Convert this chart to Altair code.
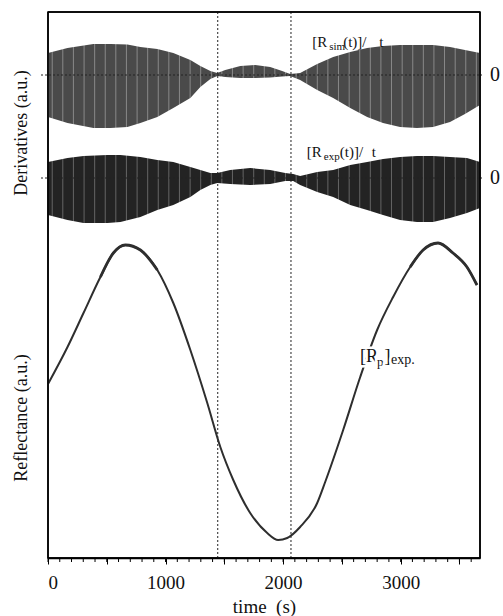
import altair as alt
import pandas as pd

FONT = "Liberation Serif"

# ---- data (time in s, values in a.u.) ----
# envelope of simulated derivative (relative to its zero line)
sim_t = [0, 166, 387, 531, 675, 786, 930, 1066, 1211, 1296, 1381, 1440, 1508, 1636, 1763,
         1890, 1992, 2060, 2145, 2290, 2426, 2571, 2715, 2850, 2995, 3139, 3275, 3420, 3547, 3675]
sim_hi = [22, 27, 31, 31, 30.5, 28, 26, 22, 15, 9, 4, 2, 5, 9, 10,
          8, 4, 1, 2, 11, 18, 23, 27, 29, 30, 30, 30, 28, 25, 22]
sim_lo = [-42, -48, -53, -53, -52, -48, -42, -33, -23, -12, -4, -1, -2, -3, -3,
          -2.5, -1.5, -1, -5, -15, -23, -33, -42, -48, -52, -53, -52, -47, -39, -30]

# envelope of experimental derivative (relative to its zero line)
exp_t = [0, 166, 302, 506, 616, 786, 930, 1066, 1211, 1296, 1381, 1440, 1550, 1720, 1890,
         2018, 2086, 2145, 2290, 2426, 2571, 2715, 2850, 2995, 3139, 3275, 3420, 3564, 3675]
exp_hi = [16, 20, 22, 23, 23, 21, 18, 16, 11, 8, 5, 5, 8, 10, 8,
          5, 4, 2, 6, 8, 13, 16, 19, 21, 22, 22, 21, 20, 16]
exp_lo = [-37, -42, -45, -45, -44, -39, -32, -27, -19, -12, -7, -5, -6, -7, -6,
          -3, -3, -7, -14, -19, -27, -32, -37, -42, -44, -44, -40, -35, -30]

# experimental reflectance
refl_t = [0, 166, 302, 446, 556, 658, 786, 930, 1066, 1211, 1355, 1466, 1576, 1720, 1865,
          1958, 2035, 2145, 2290, 2358, 2511, 2656, 2800, 2936, 3081, 3191, 3318, 3445, 3564, 3649]
refl_v = [174, 211, 245, 281, 305, 313, 308, 288, 255, 208, 155, 111, 78, 45, 25,
          18, 20, 31, 55, 76, 128, 181, 228, 261, 291, 308, 315, 305, 291, 273]

# light vertical stripes seen inside the derivative bands
stripe_t = [36, 126, 216, 307, 397, 487, 577, 667, 758, 848, 938, 1028, 1118, 1209, 1299,
            1389, 1479, 1569, 1660, 1750, 1840, 1930, 2020, 2111, 2201, 2291, 2381, 2471,
            2562, 2652, 2742, 2832, 2922, 3013, 3103, 3193, 3283, 3373, 3464, 3554, 3644]

vline_t = [1444, 2067]
major_ticks = [0, 500, 1000, 1500, 2000, 2500, 3000, 3500]
minor_ticks = list(range(0, 3700, 100))

# x-range and y-range of the plot frame
X_MIN, X_MAX = 0, 3675
W, H = 432, 546
Y_MIN, Y_MAX = 0, H

# layout constants (vertical placement of the stacked curves)
SIM_ZERO = 483
EXP_ZERO = 380

xdef = alt.X(
    "t:Q",
    scale=alt.Scale(domain=[X_MIN, X_MAX], nice=False, zero=False),
    axis=alt.Axis(
        values=major_ticks,
        labelExpr="datum.value % 1000 == 0 ? datum.label : ''",
        format="d",
        title="time\u00a0\u00a0(s)",
        tickSize=6,
        labelPadding=9,
        titlePadding=5,
        grid=False,
        domain=True,
        labelFont=FONT, labelFontSize=19, labelColor="#111",
        titleFont=FONT, titleFontSize=19, titleFontWeight="normal", titleColor="#111",
        domainColor="black", tickColor="black", domainWidth=1.5, tickWidth=1,
    ),
)
yscale = alt.Scale(domain=[Y_MIN, Y_MAX], nice=False, zero=False)


def ydef(field):
    return alt.Y(f"{field}:Q", scale=yscale, axis=None)


sim_df = pd.DataFrame({"t": sim_t,
                       "hi": [SIM_ZERO + v for v in sim_hi],
                       "lo": [SIM_ZERO + v for v in sim_lo]})
exp_df = pd.DataFrame({"t": exp_t,
                       "hi": [EXP_ZERO + v for v in exp_hi],
                       "lo": [EXP_ZERO + v for v in exp_lo]})
refl_df = pd.DataFrame({"t": refl_t, "v": refl_v})
stripe_df = pd.DataFrame({"t": stripe_t,
                          "s_hi": [SIM_ZERO + 35] * len(stripe_t),
                          "s_lo": [SIM_ZERO - 56] * len(stripe_t),
                          "e_hi": [EXP_ZERO + 26] * len(stripe_t),
                          "e_lo": [EXP_ZERO - 48] * len(stripe_t)})
vline_df = pd.DataFrame({"t": vline_t})
minor_df = pd.DataFrame({"t": minor_ticks})
zero_df = pd.DataFrame({"v": [SIM_ZERO, EXP_ZERO], "lab": ["0", "0"]})
frame_v_df = pd.DataFrame({"t": [X_MIN, X_MAX]})
frame_h_df = pd.DataFrame({"v": [Y_MIN, Y_MAX]})

sim_area = alt.Chart(sim_df).mark_area(color="#4a4a4a", opacity=1).encode(
    x=xdef, y=ydef("hi"), y2="lo:Q")
exp_area = alt.Chart(exp_df).mark_area(color="#232323", opacity=1).encode(
    x=xdef, y=ydef("hi"), y2="lo:Q")

sim_stripes = alt.Chart(stripe_df).mark_rule(color="white", opacity=0.35, strokeWidth=1).encode(
    x=xdef, y=ydef("s_hi"), y2="s_lo:Q")
exp_stripes = alt.Chart(stripe_df).mark_rule(color="white", opacity=0.3, strokeWidth=1).encode(
    x=xdef, y=ydef("e_hi"), y2="e_lo:Q")

zero_lines = alt.Chart(zero_df).mark_rule(color="#222", strokeDash=[2, 2], strokeWidth=1).encode(
    y=ydef("v"), x=alt.value(-7), x2=alt.value(W + 2))
zero_labels = alt.Chart(zero_df).mark_text(
    font=FONT, fontSize=20, color="#111", align="center", baseline="middle").encode(
    y=ydef("v"), x=alt.value(W + 15), text="lab:N")

vlines = alt.Chart(vline_df).mark_rule(color="#222", strokeDash=[2, 2], strokeWidth=1).encode(
    x=xdef, y=alt.value(0), y2=alt.value(H))

minor = alt.Chart(minor_df).mark_rule(color="black", strokeWidth=1).encode(
    x=xdef, y=alt.value(H), y2=alt.value(H + 4))

# plot frame
frame_v = alt.Chart(frame_v_df).mark_rule(color="black", strokeWidth=1.5).encode(
    x=xdef, y=alt.value(0), y2=alt.value(H))
frame_h = alt.Chart(frame_h_df).mark_rule(color="black", strokeWidth=1.5).encode(
    y=ydef("v"), x=alt.value(0), x2=alt.value(W))

refl_line = alt.Chart(refl_df).mark_line(
    color="#2e2e2e", strokeWidth=2.0, interpolate="monotone").encode(
    x=xdef, y=ydef("v"))
# the recorded curve is visibly thicker (noisier) around its two maxima
refl_peak1 = alt.Chart(refl_df).transform_filter(
    "datum.t >= 446 && datum.t <= 930").mark_line(
    color="#2e2e2e", strokeWidth=2.8, interpolate="monotone").encode(
    x=xdef, y=ydef("v"))
refl_peak2 = alt.Chart(refl_df).transform_filter(
    "datum.t >= 3081").mark_line(
    color="#2e2e2e", strokeWidth=2.8, interpolate="monotone").encode(
    x=xdef, y=ydef("v"))


def piece(text, t, v, dx=0, dy=0, size=15, halo=False):
    df = pd.DataFrame({"t": [t], "v": [v], "s": [text]})
    kw = dict(font=FONT, fontSize=size, align="left", baseline="alphabetic", dx=dx, dy=dy)
    layers = []
    if halo:
        layers.append(alt.Chart(df).mark_text(stroke="white", strokeWidth=5, color="white", **kw)
                      .encode(x=xdef, y=ydef("v"), text="s:N"))
    layers.append(alt.Chart(df).mark_text(color="#111", **kw)
                  .encode(x=xdef, y=ydef("v"), text="s:N"))
    return layers


labels = []
# [R sim(t)]/ t
labels += piece("[R", 2247, 511, 0, 0, 15)
labels += piece("sim", 2247, 511, 17, 3, 11)
labels += piece("(t)]/", 2247, 511, 31, 0, 15)
labels += piece("t", 2247, 511, 67, 0, 15)
# [R exp(t)]/ t
labels += piece("[R", 2202, 401, 0, 0, 15)
labels += piece("exp", 2202, 401, 17, 3, 11)
labels += piece("(t)]/", 2202, 401, 33, 0, 15)
labels += piece("t", 2202, 401, 65, 0, 15)
# [Rp]exp.
labels += piece("[R", 2655, 196, 0, 0, 18, True)
labels += piece("p", 2655, 196, 17, 4, 13, True)
labels += piece("]", 2655, 196, 24.5, 0, 18, True)
labels += piece("exp.", 2655, 196, 31, 2, 14, True)

ytitle1 = alt.Chart(pd.DataFrame({"s": ["Derivatives (a.u.)"]})).mark_text(
    font=FONT, fontSize=18, color="#111", angle=270, align="center", baseline="middle").encode(
    x=alt.value(-26), y=alt.value(121), text="s:N")
ytitle2 = alt.Chart(pd.DataFrame({"s": ["Reflectance (a.u.)"]})).mark_text(
    font=FONT, fontSize=18, color="#111", angle=270, align="center", baseline="middle").encode(
    x=alt.value(-26), y=alt.value(406), text="s:N")

chart = alt.layer(
    sim_area, exp_area, sim_stripes, exp_stripes, zero_lines, vlines, minor,
    refl_line, refl_peak1, refl_peak2, *labels, zero_labels, ytitle1, ytitle2,
    frame_v, frame_h,
).properties(
    width=W, height=H,
    background="white",
    padding={"left": 48, "top": 12, "right": 23, "bottom": 58},
    autosize=alt.AutoSizeParams(type="none"),
).configure_view(
    stroke="black", strokeWidth=1.5
)

chart.save("out.html", embed_options={"renderer": "svg", "actions": False})
